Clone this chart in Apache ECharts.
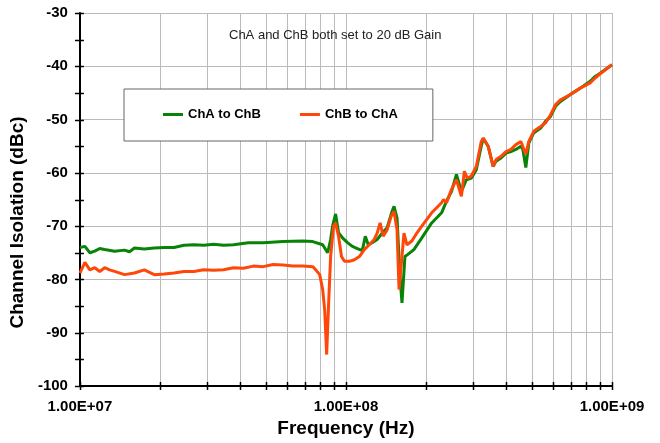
<!DOCTYPE html>
<html>
<head>
<meta charset="utf-8">
<script src="https://cdn.jsdelivr.net/npm/echarts@6/dist/echarts.min.js"></script>
<style>html,body{margin:0;padding:0;background:#fff}#c{width:660px;height:443px}</style>
</head>
<body>
<div id="c"></div>
<script>
// ---- Data (frequency in Hz, isolation in dBc) ----
const chAtoChB_freq = [1.000e7,1.044e7,1.090e7,1.137e7,1.187e7,1.239e7,1.350e7,1.471e7,1.536e7,1.603e7,1.746e7,1.903e7,2.073e7,2.259e7,2.461e7,2.681e7,2.921e7,3.183e7,3.467e7,3.778e7,4.296e7,4.887e7,5.801e7,6.887e7,7.503e7,8.176e7,8.535e7,8.757e7,8.906e7,9.140e7,9.378e7,9.705e7,1.013e8,1.057e8,1.104e8,1.152e8,1.182e8,1.213e8,1.255e8,1.310e8,1.368e8,1.428e8,1.491e8,1.516e8,1.556e8,1.596e8,1.624e8,1.666e8,1.709e8,1.800e8,1.928e8,2.100e8,2.288e8,2.388e8,2.493e8,2.602e8,2.716e8,2.835e8,2.959e8,3.090e8,3.225e8,3.281e8,3.424e8,3.574e8,3.667e8,3.828e8,3.996e8,4.170e8,4.353e8,4.545e8,4.623e8,4.743e8,4.867e8,5.080e8,5.394e8,5.631e8,5.877e8,6.135e8,6.404e8,6.976e8,7.600e8,8.281e8,8.644e8,9.023e8,1.000e9];
const chAtoChB_db = [-74.0,-73.8,-75.0,-74.7,-74.2,-74.4,-74.7,-74.5,-74.8,-74.1,-74.3,-74.1,-74.0,-74.0,-73.6,-73.5,-73.6,-73.4,-73.6,-73.5,-73.1,-73.1,-72.9,-72.8,-72.9,-73.5,-75.0,-72.5,-70.0,-67.7,-71.2,-72.2,-73.1,-73.8,-74.2,-74.6,-71.9,-73.5,-73.1,-72.5,-71.3,-70.3,-67.2,-66.3,-68.5,-79.4,-84.4,-75.7,-75.3,-74.4,-72.2,-69.4,-67.5,-65.3,-63.5,-60.3,-63.5,-61.3,-61.0,-59.4,-55.0,-53.5,-55.0,-58.8,-57.8,-57.2,-56.3,-56.0,-55.6,-55.0,-55.6,-59.0,-54.4,-52.5,-51.6,-50.3,-49.4,-47.5,-46.6,-45.3,-44.1,-42.8,-41.9,-41.3,-39.7];

const chBtoChA_freq = [1.000e7,1.044e7,1.090e7,1.137e7,1.187e7,1.239e7,1.293e7,1.350e7,1.471e7,1.603e7,1.746e7,1.903e7,2.073e7,2.259e7,2.461e7,2.681e7,2.921e7,3.183e7,3.467e7,3.778e7,4.116e7,4.485e7,4.887e7,5.324e7,5.801e7,6.320e7,6.887e7,7.503e7,7.699e7,7.967e7,8.176e7,8.318e7,8.462e7,8.608e7,8.757e7,8.982e7,9.140e7,9.378e7,9.621e7,9.872e7,1.030e8,1.076e8,1.123e8,1.172e8,1.223e8,1.277e8,1.310e8,1.344e8,1.380e8,1.428e8,1.477e8,1.516e8,1.556e8,1.583e8,1.624e8,1.652e8,1.695e8,1.769e8,1.847e8,1.928e8,2.100e8,2.288e8,2.328e8,2.388e8,2.493e8,2.602e8,2.716e8,2.787e8,2.859e8,2.959e8,3.090e8,3.225e8,3.281e8,3.424e8,3.574e8,3.667e8,3.828e8,3.996e8,4.170e8,4.353e8,4.545e8,4.623e8,4.743e8,4.867e8,5.080e8,5.394e8,5.631e8,5.877e8,6.135e8,6.404e8,6.976e8,7.600e8,8.281e8,8.644e8,9.023e8,1.000e9];
const chBtoChA_db = [-78.8,-76.8,-78.2,-77.8,-78.5,-77.8,-78.2,-78.5,-79.1,-78.8,-78.2,-79.1,-79.0,-78.8,-78.5,-78.5,-78.2,-78.3,-78.2,-77.8,-77.9,-77.5,-77.6,-77.2,-77.3,-77.5,-77.5,-77.6,-78.2,-79.1,-81.9,-85.7,-94.1,-84.4,-75.7,-70.0,-69.4,-71.9,-75.7,-76.6,-76.6,-76.3,-75.7,-74.4,-73.5,-72.5,-71.3,-69.4,-71.9,-70.7,-68.2,-67.2,-70.7,-81.9,-75.7,-71.3,-73.5,-72.8,-71.3,-70.0,-67.5,-65.6,-65.0,-65.6,-63.1,-61.3,-64.4,-59.7,-61.0,-60.6,-58.8,-54.1,-53.5,-55.0,-58.8,-57.5,-56.9,-56.0,-55.6,-54.7,-54.1,-54.3,-56.5,-54.1,-52.2,-51.3,-50.6,-49.1,-47.2,-46.3,-45.3,-44.1,-43.1,-42.2,-41.4,-39.7];

// ---- Axis ticks ----
const xMin = 1e7, xMax = 1e9, yMin = -100, yMax = -30;
const xMinorGrid = [2e7,3e7,4e7,5e7,6e7,7e7,8e7,9e7,2e8,3e8,4e8,5e8,6e8,7e8,8e8,9e8];
const xTickValues = [1e7,2e7,3e7,4e7,5e7,6e7,7e7,8e7,9e7,1e8,2e8,3e8,4e8,5e8,6e8,7e8,8e8,9e8,1e9];
const yTickValues = [-100,-95,-90,-85,-80,-75,-70,-65,-60,-55,-50,-45,-40,-35,-30];

const seriesNames = ['ChA to ChB', 'ChB to ChA'];
const seriesColors = ['#078407', '#ff470a'];

function zip(a, b) { return a.map((v, i) => [v, b[i]]); }
function sciLabel(v) {
  const e = Math.round(Math.log10(v));
  const m = v / Math.pow(10, e);
  return m.toFixed(2) + 'E+' + (e < 10 ? '0' + e : '' + e);
}

const chart = echarts.init(document.getElementById('c'), null, {renderer: 'canvas'});
const labelFont = {fontFamily: 'Liberation Sans, Arial, sans-serif', fontWeight: 'bold', color: '#000'};

chart.setOption({
  animation: false,
  backgroundColor: '#fff',
  title: {
    text: 'ChA and ChB both set to 20 dB Gain',
    left: 229, top: 29, padding: 0,
    textStyle: {fontFamily: 'Liberation Sans, Arial, sans-serif', fontSize: 13, fontWeight: 'normal', color: '#222'}
  },
  legend: {
    data: seriesNames,
    left: 124, top: 89,
    padding: [19, 35, 20, 39],
    itemGap: 39,
    itemWidth: 20, itemHeight: 3,
    icon: 'rect',
    backgroundColor: '#fff',
    borderColor: '#666', borderWidth: 1,
    textStyle: Object.assign({fontSize: 13}, labelFont)
  },
  grid: {left: 75, right: 48, top: 13, bottom: 57, containLabel: false},
  xAxis: {
    type: 'log', logBase: 10, min: xMin, max: xMax,
    name: 'Frequency (Hz)', nameLocation: 'middle', nameGap: 33,
    nameTextStyle: Object.assign({fontSize: 19}, labelFont),
    axisLine: {show: true, onZero: false, lineStyle: {color: '#000', width: 2}},
    axisTick: {show: false},
    axisLabel: Object.assign({fontSize: 15, margin: 13, formatter: sciLabel}, labelFont),
    splitLine: {show: true, lineStyle: {color: '#bbb', width: 1}},
    minorTick: {show: false}, minorSplitLine: {show: false}
  },
  yAxis: {
    type: 'value', min: yMin, max: yMax, interval: 10,
    name: 'Channel Isolation (dBc)', nameLocation: 'middle', nameGap: 41,
    nameTextStyle: Object.assign({fontSize: 19, padding: [0, 46, 0, 0]}, labelFont),
    axisLine: {show: true, onZero: false, lineStyle: {color: '#000', width: 2}},
    axisTick: {show: false},
    axisLabel: Object.assign({fontSize: 15, margin: 12}, labelFont),
    splitLine: {show: true, lineStyle: {color: '#bbb', width: 1}}
  },
  series: [
    {
      name: 'minorGrid', type: 'custom', silent: true, z: 1, clip: false,
      data: xMinorGrid.map(v => [v, yMin]),
      renderItem: function (params, api) {
        const a = api.coord([api.value(0), yMax]);
        const b = api.coord([api.value(0), yMin]);
        const x = Math.round(a[0]) + 0.5;
        return {type: 'line', shape: {x1: x, y1: a[1], x2: x, y2: b[1]}, style: {stroke: '#bbb', lineWidth: 1}};
      }
    },
    {
      name: 'ChA to ChB', type: 'line', z: 3,
      data: zip(chAtoChB_freq, chAtoChB_db),
      showSymbol: false, symbol: 'none',
      lineStyle: {color: seriesColors[0], width: 3},
      itemStyle: {color: seriesColors[0]}
    },
    {
      name: 'ChB to ChA', type: 'line', z: 4,
      data: zip(chBtoChA_freq, chBtoChA_db),
      showSymbol: false, symbol: 'none',
      lineStyle: {color: seriesColors[1], width: 3},
      itemStyle: {color: seriesColors[1]}
    },
    {
      name: 'xTicks', type: 'custom', silent: true, z: 10, clip: false,
      data: xTickValues.map(v => [v, yMin]),
      renderItem: function (params, api) {
        const p = api.coord([api.value(0), yMin]);
        const x = Math.round(p[0]) + 0.5;
        return {type: 'line', shape: {x1: x, y1: p[1] - 4, x2: x, y2: p[1] + 4}, style: {stroke: '#000', lineWidth: 1.5}};
      }
    },
    {
      name: 'yTicks', type: 'custom', silent: true, z: 10, clip: false,
      data: yTickValues.map(v => [xMin, v]),
      renderItem: function (params, api) {
        const p = api.coord([xMin, api.value(1)]);
        const y = Math.round(p[1]) + 0.5;
        return {type: 'line', shape: {x1: p[0] - 5, y1: y, x2: p[0] + 4, y2: y}, style: {stroke: '#000', lineWidth: 1.5}};
      }
    }
  ]
});
</script>
</body>
</html>
